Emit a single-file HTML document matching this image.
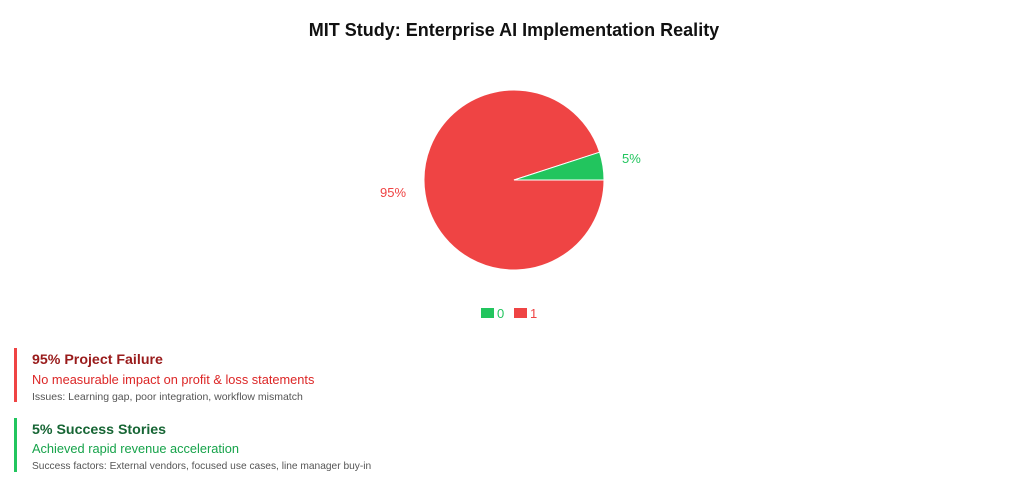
<!DOCTYPE html>
<html><head><meta charset="utf-8"><style>
body{margin:0;background:#fff;width:1024px;height:481px;overflow:hidden;font-family:"Liberation Sans",sans-serif;}
</style></head><body>
<svg width="1024" height="481" xmlns="http://www.w3.org/2000/svg" font-family="Liberation Sans, sans-serif">
<text x="514" y="36" text-anchor="middle" font-size="18" font-weight="bold" fill="#111">MIT Study: Enterprise AI Implementation Reality</text>
<path d="M514,180 L604,180 A90,90 0 1,1 599.6,152.2 Z" fill="#ef4444" stroke="#fff" stroke-width="1"/>
<path d="M514,180 L599.6,152.2 A90,90 0 0,1 604,180 Z" fill="#22c55e" stroke="#fff" stroke-width="1"/>
<text x="622" y="163" font-size="13" fill="#22c55e">5%</text>
<text x="380" y="197" font-size="13" fill="#ef4444">95%</text>
<rect x="481" y="308" width="13" height="10" fill="#22c55e"/>
<text x="497" y="318" font-size="13" fill="#22c55e">0</text>
<rect x="514" y="308" width="13" height="10" fill="#ef4444"/>
<text x="530" y="318" font-size="13" fill="#ef4444">1</text>
<rect x="14" y="348" width="3" height="54" fill="#ef4444"/>
<text x="32" y="364" font-size="14.2" font-weight="bold" fill="#991b1b">95% Project Failure</text>
<text x="32" y="384" font-size="12.8" fill="#dc2626">No measurable impact on profit &amp; loss statements</text>
<text x="32" y="400" font-size="10.5" fill="#555">Issues: Learning gap, poor integration, workflow mismatch</text>
<rect x="14" y="418" width="3" height="54" fill="#22c55e"/>
<text x="32" y="434" font-size="14.2" font-weight="bold" fill="#166534">5% Success Stories</text>
<text x="32" y="453" font-size="12.8" fill="#16a34a">Achieved rapid revenue acceleration</text>
<text x="32" y="469" font-size="10.2" fill="#555">Success factors: External vendors, focused use cases, line manager buy-in</text>
</svg>
</body></html>
